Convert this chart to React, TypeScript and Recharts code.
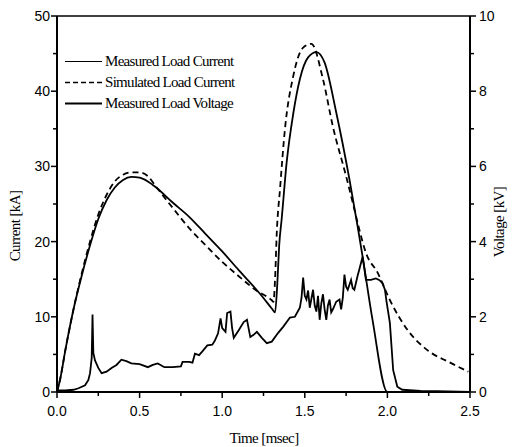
import React from 'react'
import { LineChart, Line, XAxis, YAxis, ReferenceLine, Legend } from 'recharts'

// Measured load current [kA] vs time [msec]
const measTime = [0, 0.02, 0.05, 0.1, 0.15, 0.2, 0.25, 0.3, 0.35, 0.4, 0.45, 0.5, 0.55, 0.6, 0.7, 0.8, 0.9, 1.0, 1.1, 1.2, 1.25, 1.3, 1.32, 1.335, 1.345, 1.36, 1.39, 1.43, 1.47, 1.52, 1.57, 1.62, 1.69, 1.77, 1.82, 1.85, 1.91, 2.0, 2.5]
const measCurrent = [0, 1.8, 5.5, 11, 15.5, 19.5, 23, 25.5, 27.2, 28.2, 28.6, 28.5, 28, 27.2, 25.2, 23.3, 21, 18.7, 16.2, 13.8, 12.5, 11.1, 10.6, 15, 19.5, 23, 30.5, 37, 41.6, 44.5, 45.2, 43.8, 37.2, 28.3, 22, 18, 9.6, 0, 0]

// Simulated load current [kA]
const simTime = [0, 0.02, 0.05, 0.1, 0.15, 0.2, 0.25, 0.3, 0.35, 0.4, 0.45, 0.5, 0.55, 0.6, 0.7, 0.8, 0.9, 1.0, 1.1, 1.2, 1.3, 1.31, 1.32, 1.33, 1.35, 1.38, 1.43, 1.49, 1.54, 1.61, 1.67, 1.75, 1.79, 1.83, 1.87, 1.94, 2.02, 2.12, 2.24, 2.38, 2.49]
const simCurrent = [0, 1.8, 5.5, 11, 15.8, 20, 23.6, 26.2, 28, 28.9, 29.2, 29.2, 28.7, 27.3, 24.5, 21.8, 19.5, 17.3, 15.4, 13.6, 12.2, 12, 15, 21, 27, 35, 42, 45.8, 46.3, 41.6, 35.3, 28.7, 25.2, 21.6, 18.5, 15.9, 12, 8.3, 5.6, 3.9, 2.7]

// Measured load voltage [kV]
const voltTime = [0, 0.05, 0.1, 0.13, 0.17, 0.19, 0.2, 0.205, 0.21, 0.215, 0.22, 0.23, 0.25, 0.27, 0.3, 0.33, 0.36, 0.39, 0.42, 0.45, 0.5, 0.55, 0.58, 0.61, 0.65, 0.7, 0.75, 0.76, 0.8, 0.82, 0.835, 0.86, 0.88, 0.91, 0.94, 0.955, 0.975, 0.99, 1.0, 1.02, 1.03, 1.05, 1.06, 1.07, 1.1, 1.13, 1.15, 1.17, 1.19, 1.21, 1.24, 1.27, 1.3, 1.34, 1.37, 1.41, 1.44, 1.47, 1.48, 1.49, 1.5, 1.51, 1.52, 1.53, 1.55, 1.56, 1.57, 1.58, 1.59, 1.6, 1.61, 1.62, 1.63, 1.64, 1.65, 1.66, 1.67, 1.69, 1.71, 1.72, 1.73, 1.74, 1.75, 1.76, 1.78, 1.79, 1.8, 1.82, 1.83, 1.85, 1.86, 1.87, 1.9, 1.93, 1.95, 1.97, 1.985, 1.995, 2.015, 2.035, 2.06, 2.09, 2.2, 2.3, 2.5]
const voltage = [0.04, 0.04, 0.06, 0.1, 0.18, 0.32, 0.5, 0.7, 0.9, 2.06, 1.04, 0.84, 0.64, 0.5, 0.54, 0.64, 0.72, 0.86, 0.82, 0.76, 0.74, 0.66, 0.72, 0.76, 0.66, 0.66, 0.68, 0.8, 0.8, 0.78, 1.02, 0.98, 1.08, 1.24, 1.26, 1.36, 1.56, 1.96, 1.7, 1.6, 2.1, 2.14, 1.7, 1.44, 1.64, 1.86, 1.92, 1.46, 1.52, 1.6, 1.44, 1.3, 1.34, 1.58, 1.74, 1.98, 2.0, 2.24, 2.5, 3.04, 2.56, 2.46, 2.7, 2.24, 2.72, 2.3, 2.14, 2.56, 1.92, 2.36, 2.6, 2.2, 1.92, 2.3, 2.46, 2.12, 2.2, 2.4, 2.46, 2.2, 2.5, 3.12, 2.8, 2.72, 2.98, 2.76, 2.72, 3.1, 3.26, 3.6, 3.3, 2.98, 2.98, 3.02, 2.98, 2.9, 2.72, 2.4, 1.84, 0.58, 0.14, 0.06, 0.03, 0.02, 0]

const xTicks = [0, 0.25, 0.5, 0.75, 1, 1.25, 1.5, 1.75, 2, 2.25, 2.5]
const currentTicks = [0, 5, 10, 15, 20, 25, 30, 35, 40, 45, 50]
const voltageTicks = [0, 1, 2, 3, 4, 5, 6, 7, 8, 9, 10]

const measData = measTime.map((t, i) => ({ t, v: measCurrent[i] }))
const simData = simTime.map((t, i) => ({ t, v: simCurrent[i] }))
const voltData = voltTime.map((t, i) => ({ t, v: voltage[i] }))

const tickFont = { fontFamily: '"Liberation Sans", Arial, sans-serif', fontSize: 14, fill: '#000' }
const titleFont = { fontFamily: '"Liberation Serif", "Times New Roman", serif', fontSize: 15, fill: '#000', letterSpacing: -0.6 }

const BottomTick = ({ x, y, payload }: any) => {
  const v = payload.value
  const major = Math.abs(v * 2 - Math.round(v * 2)) < 1e-6
  return (
    <g>
      <line x1={x} x2={x} y1={y} y2={y + (major ? 6 : 4)} stroke="#000" strokeWidth={1.5} />
      {major && (
        <text x={x} y={y + 24} textAnchor="middle" {...tickFont}>
          {v.toFixed(1)}
        </text>
      )}
    </g>
  )
}

const LeftTick = ({ x, y, payload }: any) => {
  const v = payload.value
  const major = v % 10 === 0
  return (
    <g>
      <line x1={x} x2={x - (major ? 6 : 4)} y1={y} y2={y} stroke="#000" strokeWidth={1.5} />
      {major && (
        <text x={x - 7} y={y + 5} textAnchor="end" {...tickFont}>
          {v}
        </text>
      )}
    </g>
  )
}

const RightTick = ({ x, y, payload }: any) => {
  const v = payload.value
  const major = v % 2 === 0
  return (
    <g>
      <line x1={x} x2={x + (major ? 6 : 4)} y1={y} y2={y} stroke="#000" strokeWidth={1.5} />
      {major && (
        <text x={x + 9} y={y + 5} textAnchor="start" {...tickFont}>
          {v}
        </text>
      )}
    </g>
  )
}

const legendRows = [
  { label: 'Measured Load Current', dash: undefined, width: 1.2 },
  { label: 'Simulated Load Current', dash: '5 3', width: 1.6 },
  { label: 'Measured Load Voltage', dash: undefined, width: 2.2 },
]

const renderLegend = () => (
  <div>
    {legendRows.map((r) => (
      <div key={r.label} style={{ display: 'flex', alignItems: 'center', height: 21 }}>
        <svg width={39} height={21}>
          <line x1={1} x2={38} y1={10.5} y2={10.5} stroke="#000" strokeWidth={r.width} strokeDasharray={r.dash} />
        </svg>
        <span
          style={{
            fontFamily: '"Liberation Serif", "Times New Roman", serif',
            fontSize: 15,
            letterSpacing: -0.7,
            marginLeft: 2,
            color: '#000',
            whiteSpace: 'nowrap',
          }}
        >
          {r.label}
        </span>
      </div>
    ))}
  </div>
)

export default function App() {
  return (
    <div style={{ position: 'absolute', left: 0, top: 0, width: 513, height: 447, background: '#fff' }}>
      <LineChart width={513} height={447} margin={{ top: 16, right: 0, bottom: 0, left: 0 }}>
        <XAxis
          type="number"
          dataKey="t"
          domain={[0, 2.5]}
          ticks={xTicks}
          tick={<BottomTick />}
          tickLine={false}
          tickSize={0}
          tickMargin={0}
          height={55}
          axisLine={{ stroke: '#000', strokeWidth: 2 }}
          allowDuplicatedCategory={false}
          label={{
            content: () => (
              <text x={264} y={443} textAnchor="middle" {...titleFont}>
                Time [msec]
              </text>
            ),
          }}
        />
        <YAxis
          yAxisId="left"
          type="number"
          domain={[0, 50]}
          ticks={currentTicks}
          tick={<LeftTick />}
          tickLine={false}
          tickSize={0}
          tickMargin={0}
          width={57}
          axisLine={{ stroke: '#000', strokeWidth: 2 }}
          label={{
            content: () => (
              <text x={20} y={226} textAnchor="middle" transform="rotate(-90 20 226)" {...titleFont}>
                Current [kA]
              </text>
            ),
          }}
        />
        <YAxis
          yAxisId="right"
          orientation="right"
          type="number"
          domain={[0, 10]}
          ticks={voltageTicks}
          tick={<RightTick />}
          tickLine={false}
          tickSize={0}
          tickMargin={0}
          width={43}
          axisLine={{ stroke: '#000', strokeWidth: 2 }}
          label={{
            content: () => (
              <text x={504} y={222} textAnchor="middle" transform="rotate(-90 504 222)" {...titleFont}>
                Voltage [kV]
              </text>
            ),
          }}
        />
        <ReferenceLine yAxisId="left" y={50} stroke="#000" strokeWidth={1.5} />
        <Legend
          layout="vertical"
          align="center"
          verticalAlign="middle"
          content={renderLegend}
          wrapperStyle={{ top: 51, left: 64, width: 'auto' }}
        />
        <Line
          yAxisId="right"
          data={voltData}
          dataKey="v"
          type="linear"
          stroke="#000"
          strokeWidth={1.8}
          dot={false}
          isAnimationActive={false}
        />
        <Line
          yAxisId="left"
          data={simData}
          dataKey="v"
          type="monotone"
          stroke="#000"
          strokeWidth={1.8}
          strokeDasharray="6 4"
          dot={false}
          isAnimationActive={false}
        />
        <Line
          yAxisId="left"
          data={measData}
          dataKey="v"
          type="monotone"
          stroke="#000"
          strokeWidth={1.8}
          dot={false}
          isAnimationActive={false}
        />
      </LineChart>
    </div>
  )
}
